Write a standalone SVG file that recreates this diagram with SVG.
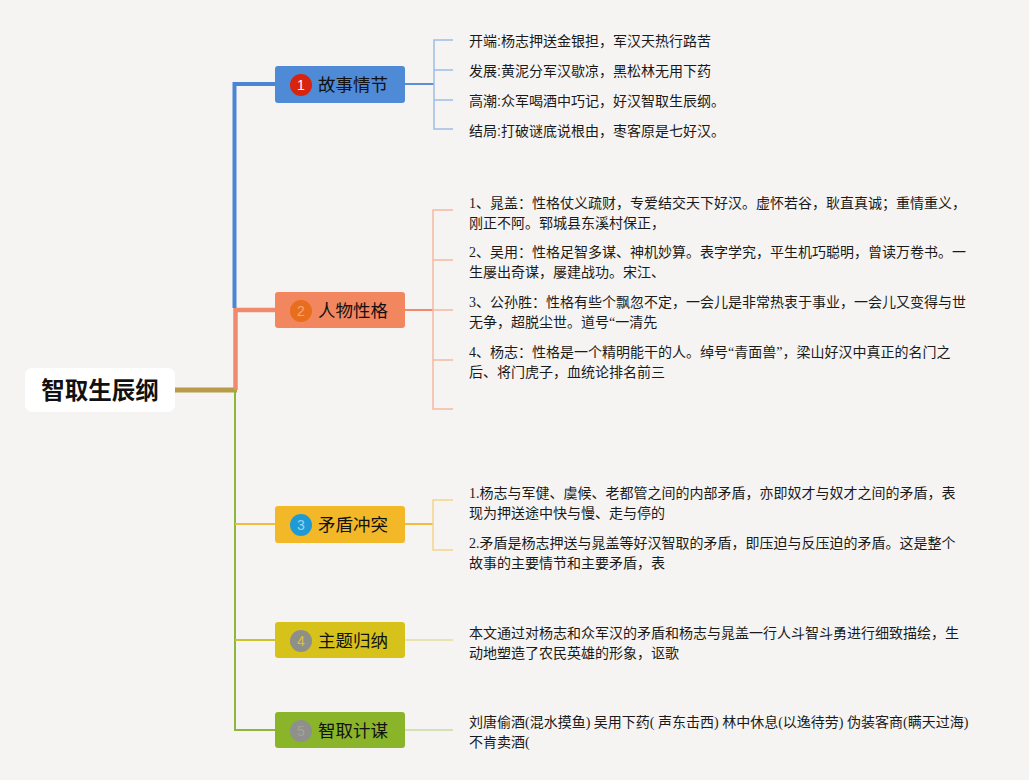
<svg xmlns="http://www.w3.org/2000/svg" width="1029" height="780" viewBox="0 0 1029 780">
<style>
.bg{fill:#f5f4f2}
.lbl{font-family:"Liberation Sans","Noto Sans CJK SC",sans-serif;font-size:17.5px;fill:#111;dominant-baseline:central}
.num{font-family:"Liberation Sans","Noto Sans CJK SC",sans-serif;font-size:14px;text-anchor:middle;dominant-baseline:central}
.t1{font-family:"Liberation Sans","Noto Sans CJK SC",sans-serif;font-size:14px;fill:#1a1a1a;dominant-baseline:central}
.t2{font-family:"Liberation Serif","Noto Sans CJK SC",serif;font-size:14px;fill:#1a1a1a;dominant-baseline:central}
.root{font-family:"Liberation Sans","Noto Sans CJK SC",sans-serif;font-size:23.5px;font-weight:bold;fill:#111;text-anchor:middle;dominant-baseline:central}
line,path{fill:none}
</style>
<rect class="bg" x="0" y="0" width="1029" height="780"/>
<g id="connectors">
  <line x1="175" y1="390" x2="237" y2="390" stroke="#b99a48" stroke-width="5"/>
  <path d="M235 390 V730 H275" stroke="#8db63a" stroke-width="2"/>
  <line x1="235" y1="524" x2="275" y2="524" stroke="#f0bc3a" stroke-width="2"/>
  <line x1="235" y1="640" x2="275" y2="640" stroke="#cdc32a" stroke-width="2"/>
  <path d="M235.5 390 V310 H275" stroke="#f08a6c" stroke-width="4.5"/>
  <path d="M234.5 308 V84 H275" stroke="#4a86d4" stroke-width="4"/>
  <line x1="405" y1="84" x2="434" y2="84" stroke="#5b8fd6" stroke-width="2"/>
  <path d="M453 40 H434 V129 H453 M434 70 H453 M434 100 H453" stroke="#9dbde6" stroke-width="1.5"/>
  <line x1="405" y1="310" x2="433" y2="310" stroke="#f08a6c" stroke-width="2"/>
  <path d="M453 210 H433 V409 H453 M433 260 H453 M433 310 H453 M433 360 H453" stroke="#f5b9a2" stroke-width="1.5"/>
  <line x1="405" y1="524" x2="433" y2="524" stroke="#f0bc3a" stroke-width="2"/>
  <path d="M453 500 H433 V550 H453" stroke="#f5d48a" stroke-width="1.5"/>
  <line x1="405" y1="640" x2="453" y2="640" stroke="#e3dc95" stroke-width="1.5"/>
  <line x1="405" y1="730" x2="453" y2="730" stroke="#c6dca0" stroke-width="1.5"/>
</g>
<g id="root">
  <rect x="25" y="368" width="150" height="44" rx="7" fill="#ffffff"/>
  <text class="root" x="100" y="391">智取生辰纲</text>
</g>
<g id="node1">
  <rect x="275" y="66" width="130" height="37" rx="3" fill="#4f8ad6"/>
  <circle cx="301" cy="85" r="11" fill="#d8230f"/>
  <text class="num" x="301" y="85" fill="#ffffff">1</text>
  <text class="lbl" x="318" y="85">故事情节</text>
</g>
<g id="node2">
  <rect x="275" y="292" width="130" height="36" rx="3" fill="#f2875f"/>
  <circle cx="301" cy="311" r="11" fill="#e86d1c"/>
  <text class="num" x="301" y="311" fill="#f5a77c">2</text>
  <text class="lbl" x="318" y="311">人物性格</text>
</g>
<g id="node3">
  <rect x="275" y="506" width="130" height="37" rx="3" fill="#f2b827"/>
  <circle cx="301" cy="525" r="11" fill="#1e9bd6"/>
  <text class="num" x="301" y="525" fill="#9fd3ec">3</text>
  <text class="lbl" x="318" y="525">矛盾冲突</text>
</g>
<g id="node4">
  <rect x="275" y="622" width="130" height="36" rx="3" fill="#d6c21a"/>
  <circle cx="301" cy="641" r="11" fill="#8f8f8a"/>
  <text class="num" x="301" y="641" fill="#d8c630">4</text>
  <text class="lbl" x="318" y="641">主题归纳</text>
</g>
<g id="node5">
  <rect x="275" y="712" width="130" height="36" rx="3" fill="#8ab52a"/>
  <circle cx="301" cy="731" r="11" fill="#8f8f8c"/>
  <text class="num" x="301" y="731" fill="#a3a39a">5</text>
  <text class="lbl" x="318" y="731">智取计谋</text>
</g>
<g id="node1-children">
  <text class="t1" x="469" y="41">开端:杨志押送金银担，军汉天热行路苦</text>
  <text class="t1" x="469" y="71">发展:黄泥分军汉歇凉，黑松林无用下药</text>
  <text class="t1" x="469" y="101">高潮:众军喝酒中巧记，好汉智取生辰纲。</text>
  <text class="t1" x="469" y="131">结局:打破谜底说根由，枣客原是七好汉。</text>
</g>
<g id="node2-children">
  <text class="t2" x="469" y="203">1、晁盖：性格仗义疏财，专爱结交天下好汉。虚怀若谷，耿直真诚；重情重义，</text>
  <text class="t2" x="469" y="223">刚正不阿。郓城县东溪村保正，</text>
  <text class="t2" x="469" y="252">2、吴用：性格足智多谋、神机妙算。表字学究，平生机巧聪明，曾读万卷书。一</text>
  <text class="t2" x="469" y="272">生屡出奇谋，屡建战功。宋江、</text>
  <text class="t2" x="469" y="302">3、公孙胜：性格有些个飘忽不定，一会儿是非常热衷于事业，一会儿又变得与世</text>
  <text class="t2" x="469" y="322">无争，超脱尘世。道号“一清先</text>
  <text class="t2" x="469" y="352">4、杨志：性格是一个精明能干的人。绰号“青面兽”，梁山好汉中真正的名门之</text>
  <text class="t2" x="469" y="372">后、将门虎子，血统论排名前三</text>
</g>
<g id="node3-children">
  <text class="t2" x="469" y="493">1.杨志与军健、虞候、老都管之间的内部矛盾，亦即奴才与奴才之间的矛盾，表</text>
  <text class="t2" x="469" y="513">现为押送途中快与慢、走与停的</text>
  <text class="t2" x="469" y="543">2.矛盾是杨志押送与晁盖等好汉智取的矛盾，即压迫与反压迫的矛盾。这是整个</text>
  <text class="t2" x="469" y="563">故事的主要情节和主要矛盾，表</text>
</g>
<g id="node4-children">
  <text class="t2" x="469" y="633">本文通过对杨志和众军汉的矛盾和杨志与晁盖一行人斗智斗勇进行细致描绘，生</text>
  <text class="t2" x="469" y="653">动地塑造了农民英雄的形象，讴歌</text>
</g>
<g id="node5-children">
  <text class="t2" x="469" y="722">刘唐偷酒(混水摸鱼) 吴用下药( 声东击西) 林中休息(以逸待劳) 伪装客商(瞒天过海)</text>
  <text class="t2" x="469" y="742">不肯卖酒(</text>
</g>
</svg>
